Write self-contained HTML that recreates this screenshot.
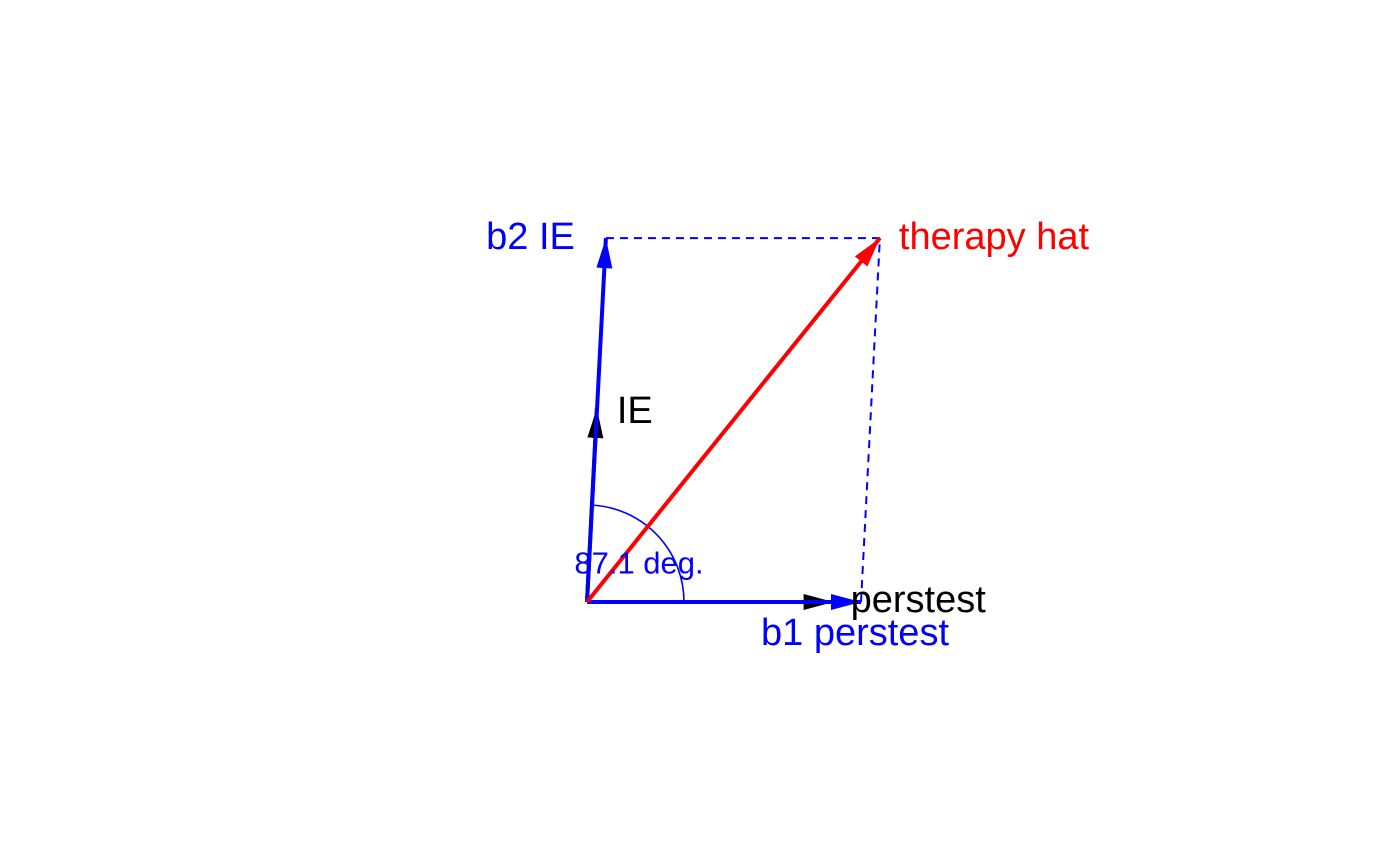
<!DOCTYPE html>
<html><head><meta charset="utf-8"><style>
html,body{margin:0;padding:0;background:#fff;}
svg{display:block;font-family:"Liberation Sans",Arial,sans-serif;}
</style></head><body>
<svg id="chart" width="1400" height="866" viewBox="0 0 1400 866">
<defs>
<marker id="hb" viewBox="0 0 10 10" refX="10" refY="5" markerUnits="userSpaceOnUse" markerWidth="30" markerHeight="16" preserveAspectRatio="none" orient="auto"><path d="M0,0 L10,5 L0,10 Z" fill="#0000ff"/></marker>
<marker id="hk" viewBox="0 0 10 10" refX="10" refY="5" markerUnits="userSpaceOnUse" markerWidth="30" markerHeight="16" preserveAspectRatio="none" orient="auto"><path d="M0,0 L10,5 L0,10 Z" fill="#000"/></marker>
<marker id="hr" viewBox="0 0 10 10" refX="10" refY="5" markerUnits="userSpaceOnUse" markerWidth="30" markerHeight="16" preserveAspectRatio="none" orient="auto"><path d="M0,0 L10,5 L0,10 Z" fill="#ff0000"/></marker>
</defs>
<g id="layer"></g>
</svg>
<script>
const vecNames = ["perstest", "IE", "b1 perstest", "b2 IE", "therapy hat"];
const vecX = [0.90, 0.036, 1.0, 0.069, 1.069];
const vecY = [0.0, 0.708, 0.0, 1.328, 1.328];
const angleDeg = [87.1];
const angleLabel = ["87.1 deg."];

const ox = 587, oy = 602, scale = 274;
function px(x){return ox + x*scale;}
function py(y){return oy - y*scale;}
const NS = "http://www.w3.org/2000/svg";
const layer = document.getElementById("layer");
function mk(tag, attrs){const e=document.createElementNS(NS,tag);for(const k in attrs)e.setAttribute(k,attrs[k]);layer.appendChild(e);return e;}

let d1 = mk("line",{x1:px(vecX[3]),y1:py(vecY[3]),x2:px(vecX[4]),y2:py(vecY[4]),stroke:"#0000ff","stroke-width":2,"stroke-dasharray":"8,6"});


let d2 = mk("line",{x1:px(vecX[2]),y1:py(vecY[2]),x2:px(vecX[4]),y2:py(vecY[4]),stroke:"#0000ff","stroke-width":2,"stroke-dasharray":"8,6"});



const r = 97, a = angleDeg[0]*Math.PI/180;
let arc = mk("path",{d:`M${ox+r},${oy} A${r},${r} 0 0 0 ${ox+r*Math.cos(a)},${oy-r*Math.sin(a)}`,fill:"none",stroke:"#0000ff","stroke-width":1.6});



const colors = ["#000","#000","#0000ff","#0000ff","#ff0000"];
const markers = ["hk","hk","hb","hb","hr"];
[0,1,2,3,4].forEach(i=>{
  let l = mk("line",{x1:ox,y1:oy,x2:px(vecX[i]),y2:py(vecY[i]),stroke:colors[i],"stroke-width":4,"marker-end":`url(#${markers[i]})`});
  
  
});

function txt(s,x,y,fill,size,anchor,name){
  const t = mk("text",{x:x,y:y,fill:fill,"font-size":size,"text-anchor":anchor,"dominant-baseline":"central"});
  t.textContent = s;
  
  
}
txt(vecNames[0], px(vecX[0])+17, 600, "#000", 38, "start", "label-perstest");
txt(vecNames[1], px(vecX[1])+20, py(vecY[1])+3, "#000", 38, "start", "label-ie");
txt(vecNames[2], px(vecX[2])-6, 633, "#0000ff", 38, "middle", "label-b1-perstest");
txt(vecNames[3], px(vecX[3])-31, py(vecY[3])-1, "#0000ff", 38, "end", "label-b2-ie");
txt(vecNames[4], px(vecX[4])+19, py(vecY[4])-1, "#ff0000", 38, "start", "label-therapy-hat");
txt(angleLabel[0], 639, 563, "#0000ff", 31, "middle", "angle-label");
</script>
</body></html>
